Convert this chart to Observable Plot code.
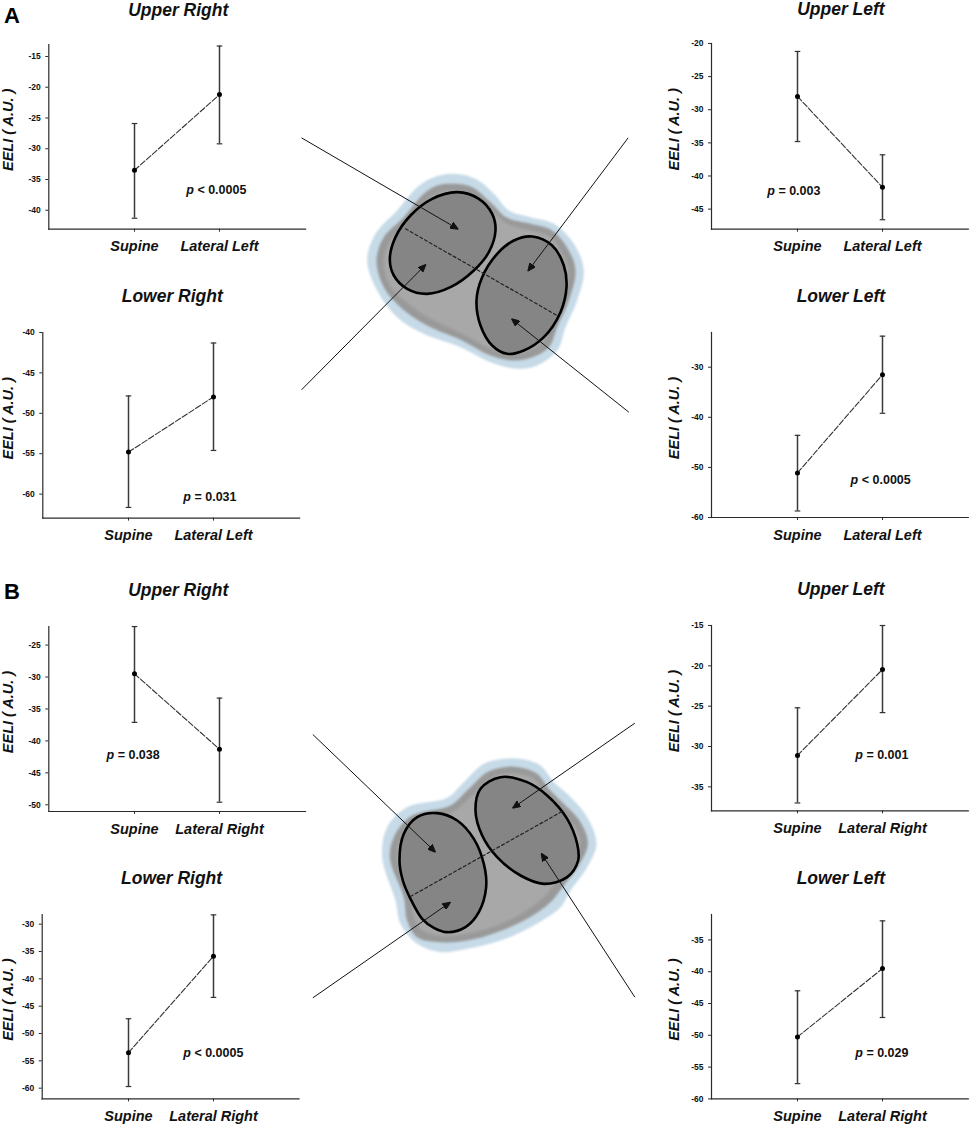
<!DOCTYPE html>
<html>
<head>
<meta charset="utf-8">
<script src="https://cdn.jsdelivr.net/npm/d3@7"></script>
<script src="https://cdn.jsdelivr.net/npm/@observablehq/plot@0.6"></script>
<style>
  html, body { margin: 0; background: #fff; }
  #page { position: relative; width: 969px; height: 1127px; overflow: hidden; font-family: "Liberation Sans", Arial, sans-serif; }
  .letter { position: absolute; left: 4px; font-size: 22px; font-weight: bold; line-height: 1; color: #000; }
</style>
</head>
<body>
<div id="page">
  <div class="letter" style="top:5px">A</div>
  <div class="letter" style="top:581px">B</div>
</div>
<script>
// panel order: A UR, A LR, A UL, A LL, B UR, B LR, B UL, B LL
const titles = ["Upper Right", "Lower Right", "Upper Left", "Lower Left", "Upper Right", "Lower Right", "Upper Left", "Lower Left"];
const lateralNames = ["Lateral Left", "Lateral Left", "Lateral Left", "Lateral Left", "Lateral Right", "Lateral Right", "Lateral Right", "Lateral Right"];

const supineMean = [-33.5, -54.8, -28.0, -51.1, -29.5, -53.5, -31.1, -50.25];
const supineLow = [-41.3, -61.65, -34.8, -58.7, -37.1, -59.7, -37.0, -57.6];
const supineHigh = [-25.9, -47.85, -21.2, -43.6, -22.1, -47.3, -25.2, -43.0];
const lateralMean = [-21.2, -47.97, -41.7, -31.5, -41.3, -35.85, -20.45, -39.5];
const lateralLow = [-29.2, -54.6, -46.6, -39.2, -49.6, -43.4, -25.8, -47.2];
const lateralHigh = [-13.3, -41.3, -36.8, -23.8, -33.3, -28.3, -15.0, -32.0];

const pLabels = ["< 0.0005", "= 0.031", "= 0.003", "< 0.0005", "= 0.038", "< 0.0005", "= 0.001", "= 0.029"];
const pHeights = [-36.75, -60.3, -42.2, -52.5, -42.2, -53.6, -31.1, -52.8];

const yTicks = [
  [-15, -20, -25, -30, -35, -40],
  [-40, -45, -50, -55, -60],
  [-20, -25, -30, -35, -40, -45],
  [-30, -40, -50, -60],
  [-25, -30, -35, -40, -45, -50],
  [-30, -35, -40, -45, -50, -55, -60],
  [-15, -20, -25, -30, -35],
  [-35, -40, -45, -50, -55, -60],
];
const yDomains = [
  [-43.08, -13.05], [-62.97, -40], [-48.03, -20], [-60, -23.07],
  [-51.05, -22.09], [-61.96, -28.23], [-37.97, -15], [-60, -31.0],
];

// where each panel's axes sit on the page, and small nudges for its texts
const frameLeft = [48.3, 42.3, 711, 711, 48.3, 41.7, 711, 711];
const frameTop = [44.3, 331.7, 43.3, 332.3, 625.7, 914.3, 625, 914.3];
const frameBottom = [229, 517.3, 229, 517.3, 810.7, 1098.7, 810.3, 1098.7];
const pDx = [-25.7, -22.6, -107.7, -24.3, -105.4, -22.7, -19.7, -19.7];
const frameWidth = 256.8;

// schematic outlines in a 1050 x 870 (A) / 1050 x 900 (B) grid
const outerA = [[490,130],[555,145],[610,190],[655,240],[720,260],[790,280],[850,340],[880,420],[860,510],[825,590],[800,660],[740,705],[680,715],[600,695],[510,650],[400,610],[320,560],[260,480],[230,390],[255,310],[320,240],[380,170],[430,140]];
const ringA = [[490,160],[545,170],[600,215],[650,262],[720,280],[785,300],[835,360],[855,420],[835,510],[800,590],[775,650],[720,682],[670,690],[600,675],[515,630],[410,585],[330,530],[280,470],[258,390],[280,320],[340,260],[400,190],[440,165]];
const innerA = [[490,180],[600,240],[650,280],[720,300],[780,320],[820,380],[835,430],[810,520],[780,590],[750,640],[700,665],[660,670],[600,655],[515,610],[420,565],[340,510],[295,460],[280,390],[300,330],[360,270],[420,200]];
const lungsA = [
  [[500,185],[565,205],[605,250],[615,300],[595,365],[550,420],[480,470],[410,490],[350,475],[310,435],[298,385],[315,320],[360,255],[425,205]],
  [[725,318],[785,345],[820,405],[828,470],[810,545],[760,620],[700,660],[650,670],[605,645],[570,585],[558,510],[575,440],[620,370],[670,330]],
];
const splitA = [[345,295],[800,555]];
const arrowsA = [[33,22,503,296],[1013,22,712,422],[33,778,406,402],[1015,845,663,565]];

const outerB = [[660,145],[720,165],[760,215],[800,250],[860,320],[888,400],[860,470],[810,540],[780,590],[690,650],[600,690],[500,715],[420,725],[350,700],[300,640],[285,570],[245,440],[260,350],[320,290],[440,262],[490,215],[550,160],[610,145]];
const ringB = [[655,170],[710,190],[745,235],[790,280],[840,335],[862,400],[835,465],[790,525],[750,575],[680,625],[590,665],[500,690],[420,695],[350,680],[320,630],[310,560],[268,440],[285,370],[335,315],[450,285],[505,235],[560,185],[610,170]];
const innerB = [[655,190],[700,205],[730,250],[770,300],[820,345],[840,400],[810,460],[770,510],[730,560],[670,605],[590,645],[500,670],[420,675],[365,660],[340,620],[330,555],[290,440],[305,380],[350,335],[455,305],[515,255],[570,205],[610,190]];
const lungsB = [
  [[410,308],[470,330],[520,385],[550,460],[557,530],[535,605],[495,650],[440,665],[400,652],[365,625],[330,565],[307,510],[297,450],[310,370],[350,320]],
  [[600,200],[680,215],[740,255],[800,325],[830,400],[833,450],[800,500],[730,520],[660,495],[590,440],[545,375],[525,300],[540,235]],
];
const splitB = [[330,558],[790,300]];
const arrowsB = [[37,72,405,425],[1003,38,636,293],[37,862,450,575],[1003,860,722,428]];

const page = document.getElementById("page");
const font = '"Liberation Sans", Arial, sans-serif';
const ink = "#2b2b2b";

// flat cap for the error bars, tickY wants a band scale
const capSymbol = {draw(c, size) {
  const r = Math.sqrt(size / Math.PI);
  c.moveTo(-r, 0);
  c.lineTo(r, 0);
}};

function panel(i) {
  const marginTop = 44, marginBottom = 32;
  const svgLeft = frameLeft[i] > 400 ? 660 : 0;
  const cats = ["Supine", lateralNames[i]];
  const rows = [
    {c: cats[0], m: supineMean[i], lo: supineLow[i], hi: supineHigh[i]},
    {c: cats[1], m: lateralMean[i], lo: lateralLow[i], hi: lateralHigh[i]},
  ];
  const caps = rows.flatMap(d => [{c: d.c, v: d.lo}, {c: d.c, v: d.hi}]);
  const pRow = [{c: cats[1], v: pHeights[i]}];
  const labelDx = svgLeft ? -37 : 8 - frameLeft[i];
  // the top row sits right against the page edge
  const titleDy = frameTop[i] < 50 ? -40.5 : -43;

  const plot = Plot.plot({
    width: frameLeft[i] - svgLeft + frameWidth,
    height: frameBottom[i] - frameTop[i] + marginTop + marginBottom,
    marginLeft: frameLeft[i] - svgLeft,
    marginRight: 0,
    marginTop,
    marginBottom,
    style: `position:absolute;left:${svgLeft}px;top:${frameTop[i] - marginTop}px;overflow:visible;background:transparent;font-family:${font};color:${ink}`,
    x: {type: "point", domain: cats, padding: 1},
    y: {domain: yDomains[i]},
    marks: [
      Plot.frame({anchor: "left", stroke: ink, strokeWidth: 1.2}),
      Plot.frame({anchor: "bottom", stroke: ink, strokeWidth: 1.2}),
      Plot.axisY({ticks: yTicks[i], tickFormat: d => String(d), tickSize: 3, tickPadding: 5, label: null, fontSize: 8.5, fontWeight: "bold", stroke: ink, fill: "#111"}),
      Plot.axisX({tickSize: 3, tickPadding: 9, label: null, fontSize: 14.5, fontWeight: "bold", fontStyle: "italic", stroke: ink, fill: "#111"}),
      Plot.line(rows, {x: "c", y: "m", stroke: "#333", strokeWidth: 1.1, strokeDasharray: "6 2"}),
      Plot.ruleX(rows, {x: "c", y1: "lo", y2: "hi", stroke: "#3a3a3a", strokeWidth: 1.5}),
      Plot.dot(caps, {x: "c", y: "v", r: 2.8, symbol: capSymbol, fill: "none", stroke: "#333", strokeWidth: 1.2}),
      Plot.dot(rows, {x: "c", y: "m", r: 2.5, fill: "#000"}),
      Plot.text([titles[i]], {frameAnchor: "top", dy: titleDy, dx: 1, fontSize: 17.5, fontWeight: "bold", fontStyle: "italic", fill: "#111"}),
      Plot.text(["EELI ( A.U. )"], {frameAnchor: "left", textAnchor: "middle", dx: labelDx, dy: -7, rotate: -90, fontSize: 14.5, fontWeight: "bold", fontStyle: "italic", fill: "#111"}),
      Plot.text(pRow, {x: "c", y: "v", text: () => "p", textAnchor: "end", dx: pDx[i], fontSize: 12.5, fontWeight: "bold", fontStyle: "italic", fill: "#111"}),
      Plot.text(pRow, {x: "c", y: "v", text: () => pLabels[i], textAnchor: "start", dx: pDx[i] + 3.6, fontSize: 12.5, fontWeight: "bold", fill: "#111"}),
    ],
  });
  page.appendChild(plot);
}

// solid arrow head, the built-in one is open
function solidHead(color) {
  const m = d3.create("svg:marker")
    .attr("viewBox", "-8 -3.5 8 7")
    .attr("markerWidth", 8)
    .attr("markerHeight", 7)
    .attr("markerUnits", "userSpaceOnUse")
    .attr("orient", "auto");
  m.append("path").attr("d", "M-8,-3.5L0,0L-8,3.5Z").attr("fill", color);
  return m.node();
}

function soft(amount) {
  return (index, scales, values, dimensions, context, next) => {
    const g = next(index, scales, values, dimensions, context);
    g.style.filter = `blur(${amount}px)`;
    return g;
  };
}

function schematic(left, top, gridH, outer, ring, inner, lungs, split, arrows) {
  const blob = (pts, fill, blur) => Plot.line(pts, {
    x: d => d[0], y: d => d[1], curve: "catmull-rom-closed", fill, stroke: "none", render: soft(blur),
  });
  const links = arrows.map(d => ({x1: d[0], y1: d[1], x2: d[2], y2: d[3]}));
  page.appendChild(Plot.plot({
    width: 350,
    height: gridH / 3,
    margin: 0,
    style: `position:absolute;left:${left}px;top:${top}px;overflow:visible;background:transparent`,
    x: {domain: [0, 1050], axis: null},
    y: {domain: [gridH, 0], axis: null},
    marks: [
      blob(outer, "#c6dae7", 0.8),
      blob(ring, "#999999", 1),
      blob(inner, "#a8a8a8", 1.5),
      ...lungs.map(pts => Plot.line(pts, {
        x: d => d[0], y: d => d[1], curve: "catmull-rom-closed", fill: "#858585", stroke: "#000", strokeWidth: 2.6,
      })),
      Plot.line(split, {x: d => d[0], y: d => d[1], stroke: "#222", strokeWidth: 1.2, strokeDasharray: "3 2.5"}),
      Plot.link(links, {x1: "x1", y1: "y1", x2: "x2", y2: "y2", stroke: "#111", strokeWidth: 1, markerEnd: solidHead}),
    ],
  }));
}

schematic(290, 130, 870, outerA, ringA, innerA, lungsA, splitA, arrowsA);
schematic(300, 710, 900, outerB, ringB, innerB, lungsB, splitB, arrowsB);
titles.forEach((_, i) => panel(i));
</script>
</body>
</html>
